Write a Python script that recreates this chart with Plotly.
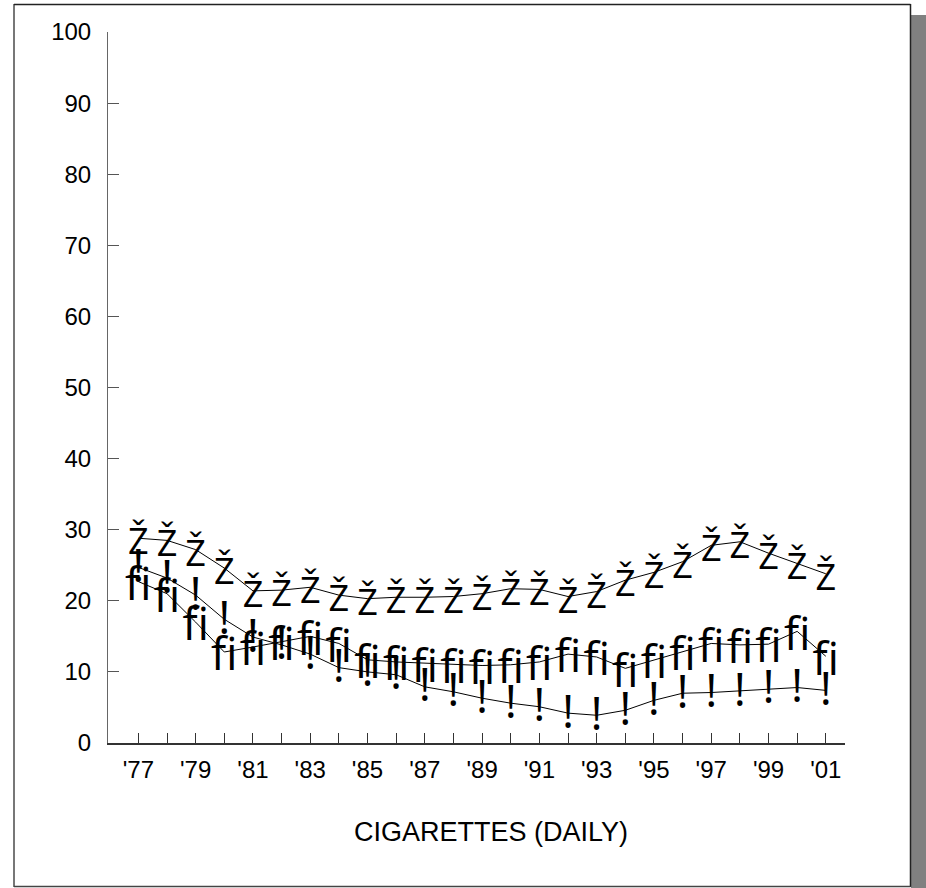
import plotly.graph_objects as go

# ---------------- data ----------------
years = list(range(1977, 2002))
tick_labels = ["'77", "", "'79", "", "'81", "", "'83", "", "'85", "", "'87", "", "'89", "",
               "'91", "", "'93", "", "'95", "", "'97", "", "'99", "", "'01"]
y_ticks = [0, 10, 20, 30, 40, 50, 60, 70, 80, 90, 100]

series_z = [28.8, 28.5, 27.2, 24.6, 21.4, 21.5, 21.9, 20.8, 20.3, 20.5, 20.5, 20.6, 21.0,
            21.7, 21.6, 20.6, 21.3, 22.9, 24.0, 25.5, 27.8, 28.3, 26.7, 25.3, 23.8]
series_fi = [22.7, 21.0, 17.0, 12.8, 13.5, 14.3, 15.0, 14.0, 11.7, 11.4, 11.2, 11.0, 10.9,
             11.0, 11.4, 12.5, 12.1, 10.5, 11.7, 12.8, 14.0, 13.8, 13.9, 15.7, 12.2]
series_ex = [24.7, 23.2, 20.8, 17.4, 14.9, 13.8, 12.5, 10.6, 10.0, 9.6, 7.9, 7.2, 6.3,
             5.6, 5.1, 4.2, 3.9, 4.6, 6.0, 7.0, 7.1, 7.3, 7.6, 7.8, 7.4]

marker_z = "Ž"
marker_fi = "fi"
marker_ex = "!"
title_text = "CIGARETTES (DAILY)"

# ---------------- layout geometry ----------------
W, H = 926, 888
L, R, T, B = 108, 845, 32, 743  # plot area in pixels
PX_PER_UNIT = (B - T) / 100.0


def px(x):
    return (x - L) / (R - L)


def py(y):
    return (B - y) / (B - T)


fig = go.Figure()

# connecting lines
for vals in (series_z, series_fi, series_ex):
    fig.add_trace(go.Scatter(
        x=years, y=vals, mode="lines", line=dict(color="black", width=1),
        showlegend=False, hoverinfo="skip", yaxis="y",
    ))

# glyph markers (drawn on overlaid axes to centre the glyphs visually on the points)
for vals, mk, fs, ax in [(series_z, marker_z, 36, "y2"), (series_fi, marker_fi, 45, "y2"),
                         (series_ex, marker_ex, 46, "y3")]:
    fig.add_trace(go.Scatter(
        x=years, y=vals, mode="text",
        text=[mk] * len(vals), textposition="middle center",
        textfont=dict(family="Open Sans", size=fs, color="black"),
        showlegend=False, hoverinfo="skip", yaxis=ax,
    ))

shapes = [
    # shadow
    dict(type="rect", xref="paper", yref="paper", x0=px(911), x1=px(930), y0=py(892), y1=py(15),
         fillcolor="#808080", line=dict(width=0), layer="below"),
    # frame
    dict(type="line", xref="paper", yref="paper", x0=px(14), x1=px(14), y0=py(887), y1=py(4),
         line=dict(color="#777777", width=2)),
    dict(type="line", xref="paper", yref="paper", x0=px(14), x1=px(910.5), y0=py(4.5), y1=py(4.5),
         line=dict(color="#222222", width=1.5)),
    dict(type="line", xref="paper", yref="paper", x0=px(910.5), x1=px(910.5), y0=py(887), y1=py(4),
         line=dict(color="#222222", width=1.5)),
    dict(type="line", xref="paper", yref="paper", x0=px(14), x1=px(910.5), y0=py(886.5), y1=py(886.5),
         line=dict(color="#444444", width=1.5)),
]

d2 = 7 / PX_PER_UNIT
d3 = 3 / PX_PER_UNIT

fig.update_layout(
    width=W, height=H,
    margin=dict(l=L, r=W - R, t=T, b=H - B, pad=0),
    paper_bgcolor="white", plot_bgcolor="white",
    shapes=shapes,
    font=dict(family="Liberation Sans, Arial, sans-serif", color="black"),
    annotations=[dict(text=title_text, xref="paper", yref="paper",
                      x=px(491), y=py(832), xanchor="center", yanchor="middle",
                      showarrow=False, font=dict(size=27, family="Liberation Sans, Arial", color="black"))],
    yaxis2=dict(overlaying="y", range=[d2, 100 + d2], visible=False, fixedrange=True),
    yaxis3=dict(overlaying="y", range=[d3, 100 + d3], visible=False, fixedrange=True),
)

fig.update_xaxes(
    range=[1975.94, 2001.67], tickmode="array", tickvals=years, ticktext=tick_labels,
    ticks="inside", ticklen=10, tickcolor="#333", tickwidth=1,
    showline=True, linecolor="#333", linewidth=1.5, showgrid=False, zeroline=False,
    tickfont=dict(size=24, family="Liberation Sans, Arial"), ticklabelstandoff=5,
)
fig.update_layout(yaxis=dict(
    range=[0, 100], tickmode="array", tickvals=y_ticks,
    ticks="inside", ticklen=11, tickcolor="#555", tickwidth=1,
    showline=True, linecolor="#666", linewidth=1, showgrid=False, zeroline=False,
    tickfont=dict(size=24, family="Liberation Sans, Arial"), ticklabelstandoff=11,
))

fig.write_html(
    "out.html",
    config={"displayModeBar": False, "staticPlot": True},
    post_script="document.body.style.margin='0px';document.body.style.overflow='hidden';",
)
